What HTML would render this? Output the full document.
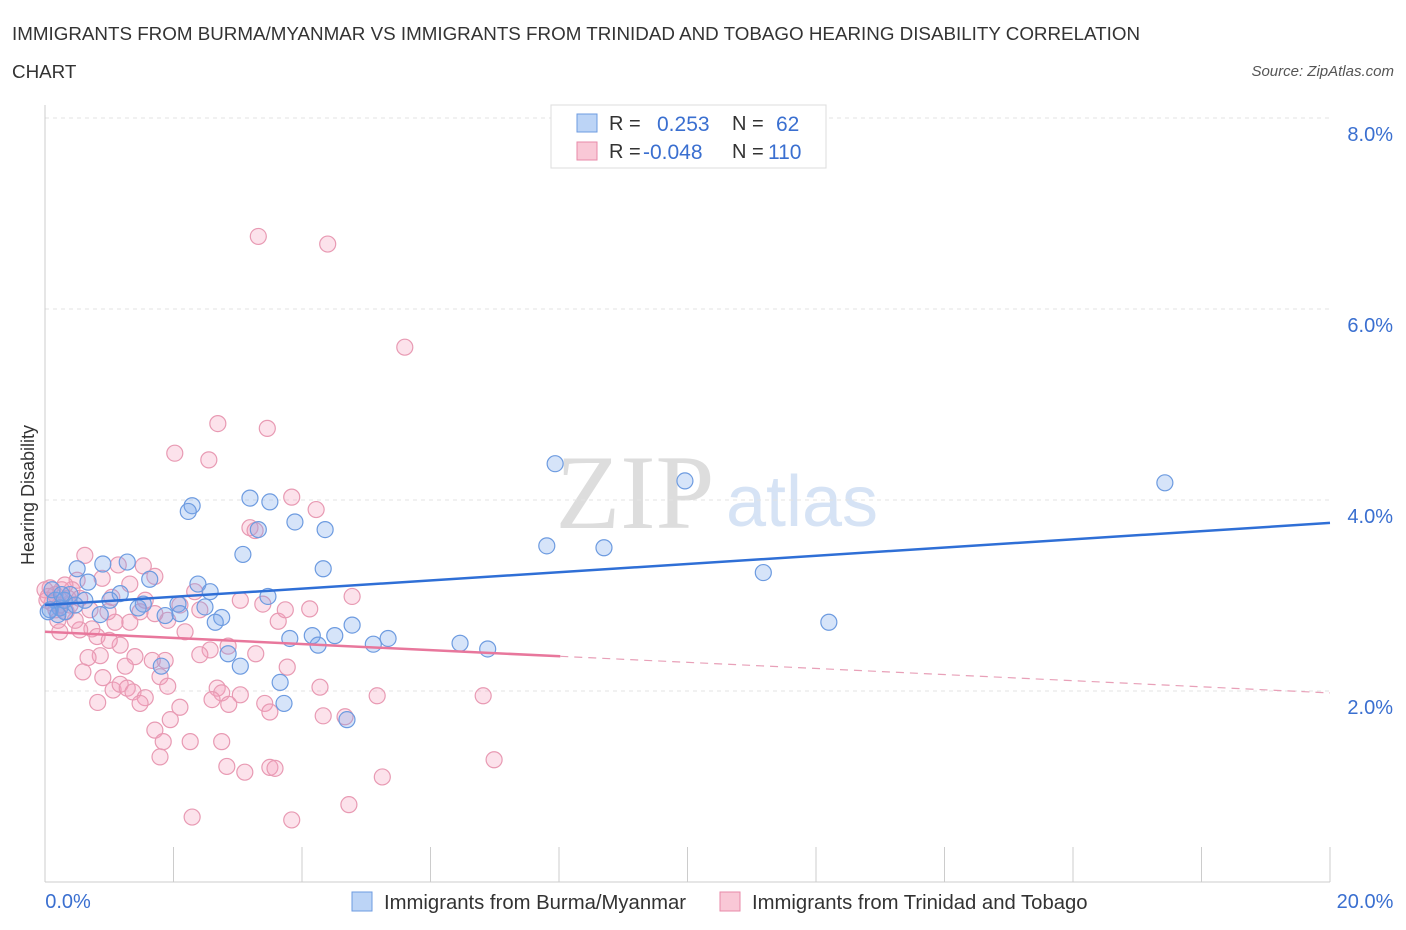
<!DOCTYPE html>
<html><head><meta charset="utf-8">
<style>
body{margin:0;background:#fff;font-family:"Liberation Sans",sans-serif;}
svg{display:block}
</style></head>
<body>
<svg id="chart" width="1406" height="930" xmlns="http://www.w3.org/2000/svg">
<text x="12" y="40" font-size="18.8" fill="#333">IMMIGRANTS FROM BURMA/MYANMAR VS IMMIGRANTS FROM TRINIDAD AND TOBAGO HEARING DISABILITY CORRELATION</text>
<text x="12" y="78" font-size="18.8" fill="#333">CHART</text>
<text x="1394" y="76" font-size="15" font-style="italic" fill="#555" text-anchor="end">Source: ZipAtlas.com</text>
<g>
<text x="635" y="528" font-family="Liberation Serif,serif" font-size="106" fill="#ddd" text-anchor="middle">ZIP</text>
<text x="802" y="526" font-size="72" fill="#d6e3f5" text-anchor="middle">atlas</text>
</g>
<g id="grid"></g>
<g id="axes"></g>
<g id="marks"></g>
<g>
<rect x="551" y="105" width="275" height="63" fill="#fff" stroke="#ddd"/>
<rect x="577" y="114" width="20" height="18" fill="#bcd4f6" stroke="#6d9be0"/>
<rect x="577" y="142" width="20" height="18" fill="#f9c8d6" stroke="#e88aa8"/>
<text x="609" y="130" font-size="20" fill="#333">R =</text>
<text x="657" y="131" font-size="21" fill="#3a6fd0">0.253</text>
<text x="732" y="130" font-size="20" fill="#333">N =</text>
<text x="776" y="131" font-size="21" fill="#3a6fd0">62</text>
<text x="609" y="158" font-size="20" fill="#333">R =</text>
<text x="643" y="159" font-size="21" fill="#3a6fd0">-0.048</text>
<text x="732" y="158" font-size="20" fill="#333">N =</text>
<text x="768" y="159" font-size="21" fill="#3a6fd0">110</text>
</g>
<g>
<rect x="352" y="892" width="20" height="19" fill="#bcd4f6" stroke="#6d9be0"/>
<text x="384" y="909" font-size="20.3" fill="#333">Immigrants from Burma/Myanmar</text>
<rect x="720" y="892" width="20" height="19" fill="#f9c8d6" stroke="#e88aa8"/>
<text x="752" y="909" font-size="20.3" fill="#333">Immigrants from Trinidad and Tobago</text>
</g>
<text transform="translate(34,495) rotate(-90)" font-size="18" fill="#333" text-anchor="middle">Hearing Disability</text>
</svg>
<script>
const blueX=[7.94,9.96,17.43,3.19,3.50,2.29,2.23,3.89,3.32,4.36,3.08,7.81,8.70,4.33,0.50,0.90,1.28,1.63,0.67,2.38,11.18,1.17,1.01,0.62,1.53,1.45,3.47,2.57,2.07,2.49,2.75,2.65,1.87,2.10,0.86,12.20,4.78,3.81,4.16,4.51,5.34,4.25,5.11,6.46,6.89,2.85,3.04,1.81,3.66,3.72,4.70,0.16,0.23,0.31,0.08,0.39,0.20,0.30,0.11,0.47,0.26,0.05];
const blueY=[4.38,4.20,4.18,4.02,3.98,3.94,3.88,3.77,3.69,3.69,3.43,3.52,3.50,3.28,3.28,3.33,3.35,3.17,3.14,3.12,3.24,3.02,2.95,2.95,2.91,2.87,2.99,3.04,2.91,2.88,2.77,2.72,2.79,2.81,2.80,2.72,2.69,2.55,2.58,2.58,2.55,2.48,2.49,2.50,2.44,2.39,2.26,2.26,2.09,1.87,1.70,2.95,2.87,2.83,2.85,3.01,2.80,2.95,3.06,2.90,3.01,2.83];
const pinkX=[3.32,4.40,5.60,2.69,3.46,2.02,2.55,3.84,4.22,3.19,3.27,0.62,0.50,0.89,1.32,1.71,1.53,1.14,2.33,3.04,3.39,4.12,4.78,3.63,2.10,1.91,1.71,1.48,1.32,1.09,0.98,0.73,0.54,0.81,1.17,1.00,0.23,0.47,2.18,2.57,2.85,3.28,2.41,1.87,1.67,1.40,1.25,0.86,0.67,0.59,0.90,1.06,1.17,1.28,1.37,1.56,1.48,1.79,1.91,2.68,2.75,2.60,3.04,3.77,4.28,3.42,5.17,6.82,3.50,4.33,4.67,2.10,1.95,1.71,1.79,1.84,2.26,2.75,2.83,3.11,3.50,3.58,5.25,6.99,4.73,2.29,3.84,0.82,0.33,0.16,0.08,0.26,0.39,0.03,0.20,0.11,0.42,0.00,0.36,0.23,0.17,0.05,0.31,0.54,0.70,1.04,2.86,1.56,2.41,3.74];
const pinkY=[6.76,6.68,5.60,4.80,4.75,4.49,4.42,4.03,3.90,3.71,3.68,3.42,3.16,3.18,3.12,3.20,3.31,3.32,3.04,2.95,2.91,2.86,2.99,2.73,2.90,2.74,2.81,2.83,2.72,2.72,2.83,2.65,2.64,2.57,2.48,2.53,2.62,2.74,2.62,2.43,2.47,2.39,2.38,2.32,2.32,2.36,2.26,2.37,2.35,2.20,2.14,2.01,2.07,2.03,1.99,1.93,1.87,2.15,2.05,2.03,1.98,1.91,1.96,2.25,2.04,1.87,1.95,1.95,1.78,1.74,1.73,1.83,1.70,1.59,1.31,1.47,1.47,1.47,1.21,1.15,1.20,1.19,1.10,1.28,0.81,0.68,0.65,1.88,2.83,3.01,3.08,3.06,2.90,2.95,2.74,2.92,3.06,3.06,2.97,2.90,2.85,2.99,3.11,2.97,2.85,2.98,1.86,2.95,2.85,2.85];
const blueTrend=[2.90,3.76];
const pinkTrend=[2.62,1.98];
const pinkSolidEnd=8.02;
const yTicks=[2,4,6,8];
const yTickLabels=["2.0%","4.0%","6.0%","8.0%"];
const xTicks=[0,2,4,6,8,10,12,14,16,18,20];

const NS="http://www.w3.org/2000/svg";
const sx=v=>45+v*64.25;
const sy=v=>882-v*95.5;
function mk(tag,attrs,parent){const e=document.createElementNS(NS,tag);for(const k in attrs)e.setAttribute(k,attrs[k]);parent.appendChild(e);return e;}
const grid=document.getElementById('grid'),axes=document.getElementById('axes'),marks=document.getElementById('marks');
yTicks.forEach((t,i)=>{
  const l=mk('line',{x1:45,x2:1330,y1:sy(t),y2:sy(t),stroke:'#e3e3e3','stroke-dasharray':'4,4'},grid);
  
  
  const tx=mk('text',{x:1393,y:sy(t)+23,'font-size':20,fill:'#3a6fd0','text-anchor':'end'},axes);
  tx.textContent=yTickLabels[i];
  
  
});
const ax=mk('line',{x1:45,x2:45,y1:105,y2:882,stroke:'#ccc'},axes);


const bx=mk('line',{x1:45,x2:1330,y1:882,y2:882,stroke:'#ccc'},axes);


xTicks.forEach(t=>{
  const l=mk('line',{x1:sx(t),x2:sx(t),y1:847,y2:882,stroke:'#ccc'},axes);
  
  
});
const xl0=mk('text',{x:68,y:908,'font-size':20,fill:'#3a6fd0','text-anchor':'middle'},axes);xl0.textContent='0.0%';


const xl1=mk('text',{x:1365,y:908,'font-size':20,fill:'#3a6fd0','text-anchor':'middle'},axes);xl1.textContent='20.0%';



pinkX.forEach((x,i)=>{
  const c=mk('circle',{cx:sx(x),cy:sy(pinkY[i]),r:8,fill:'rgba(244,160,188,0.3)',stroke:'#e89ab3','stroke-width':1.2},marks);
  
  
});
blueX.forEach((x,i)=>{
  const c=mk('circle',{cx:sx(x),cy:sy(blueY[i]),r:8,fill:'rgba(120,165,235,0.3)',stroke:'#6d9be0','stroke-width':1.2},marks);
  
  
});
const bt=mk('line',{x1:sx(0),y1:sy(blueTrend[0]),x2:sx(20),y2:sy(blueTrend[1]),stroke:'#2f6fd6','stroke-width':2.5},marks);


const py=x=>pinkTrend[0]+(pinkTrend[1]-pinkTrend[0])*x/20;
const ps=mk('line',{x1:sx(0),y1:sy(py(0)),x2:sx(pinkSolidEnd),y2:sy(py(pinkSolidEnd)),stroke:'#e8779c','stroke-width':2.5},marks);


const pd=mk('line',{x1:sx(pinkSolidEnd),y1:sy(py(pinkSolidEnd)),x2:sx(20),y2:sy(py(20)),stroke:'#e8a0b8','stroke-width':1.2,'stroke-dasharray':'8,6'},marks);


</script>
</body></html>
